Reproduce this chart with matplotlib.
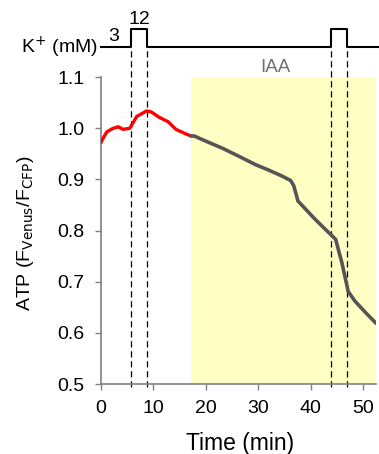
import matplotlib.pyplot as plt
import matplotlib.transforms as mtransforms

plt.rcParams['font.family'] = ['Liberation Sans', 'DejaVu Sans']

# ATP trace before IAA (red) and after IAA (gray)
t_red = [0.0, 0.2, 1.1, 2.3, 3.3, 4.2, 5.5, 6.8, 8.7, 9.6, 11.2, 12.8, 14.3, 16.0, 17.2]
v_red = [0.972, 0.977, 0.993, 1.000, 1.003, 0.998, 1.000, 1.023, 1.034, 1.032, 1.021, 1.013,
         0.998, 0.990, 0.985]
t_gray = [17.2, 17.8, 20.0, 23.2, 26.0, 29.5, 32.1, 34.5, 36.2, 36.8, 37.6, 40.9, 44.1,
          44.8, 46.0, 47.2, 48.5, 50.5, 52.5]
v_gray = [0.985, 0.985, 0.975, 0.961, 0.947, 0.929, 0.918, 0.907, 0.898, 0.888, 0.858,
          0.822, 0.790, 0.783, 0.737, 0.681, 0.662, 0.640, 0.619]

# K+ protocol: 3 mM baseline, 12 mM pulses
k_times = [0, 5.75, 5.75, 8.7, 8.7, 44.0, 44.0, 47.0, 47.0, 52.8]
k_level = [0, 0, 1, 1, 0, 0, 1, 1, 0, 0]
pulse_edges = [5.75, 8.7, 44.0, 47.0]
iaa_start = 17.1

fig = plt.figure(figsize=(3.79, 4.54), dpi=100)
ax = fig.add_axes([0.2665, 0.154, 0.7255, 0.676])

ax.axvspan(iaa_start, 53, ymin=0, ymax=1, color='#ffffc4', lw=0, zorder=0)
ax.text(33.3, 1.102, 'IAA', color='#707070', fontsize=13.5, ha='center', va='bottom')

ax.plot(t_red, v_red, color='#ff0000', lw=2.4, solid_capstyle='round', zorder=3)
ax.plot(t_gray, v_gray, color='#555555', lw=2.6, solid_capstyle='round', zorder=3)

# dashed lines and K+ trace live above the axes
trans = mtransforms.blended_transform_factory(ax.transData, ax.transAxes)
for x in pulse_edges:
    ax.plot([x, x], [-0.01, 1.098], transform=trans, color='black', lw=0.9,
            ls=(0, (5, 3)), clip_on=False, zorder=2)

k_y = [1.098 + 0.058 * k for k in k_level]
ax.plot(k_times, k_y, transform=trans, color='black', lw=1.5, clip_on=False)
ax.text(-0.6, 1.098, 'K$^{+}$ (mM)', transform=trans, fontsize=14, ha='right', va='center')
ax.text(2.4, 1.106, '3', transform=trans, fontsize=14, ha='center', va='bottom')
ax.text(7.3, 1.160, '12', transform=trans, fontsize=14, ha='center', va='bottom')

ax.set_xlim(0, 52.5)
ax.set_ylim(0.5, 1.1)
ax.set_xticks([0, 10, 20, 30, 40, 50])
ax.set_yticks([0.5, 0.6, 0.7, 0.8, 0.9, 1.0, 1.1])
ax.set_yticklabels(['0.5', '0.6', '0.7', '0.8', '0.9', '1.0', '1.1'])
ax.tick_params(labelsize=14, color='#808080', length=4, width=1, direction='out')
ax.tick_params(axis='x', pad=7.5)
ax.tick_params(axis='y', pad=8)

for side in ['top', 'right']:
    ax.spines[side].set_visible(False)
for side in ['left', 'bottom']:
    ax.spines[side].set_color('#808080')
    ax.spines[side].set_linewidth(1.2)

ax.set_xlabel('Time (min)', fontsize=16.5)
ax.set_ylabel('ATP (F$_{\\mathrm{Venus}}$/F$_{\\mathrm{CFP}}$)', fontsize=14)
ax.xaxis.set_label_coords(0.507, -0.155)
ax.yaxis.set_label_coords(-0.235, 0.493)

fig.savefig('out.png', dpi=100)
